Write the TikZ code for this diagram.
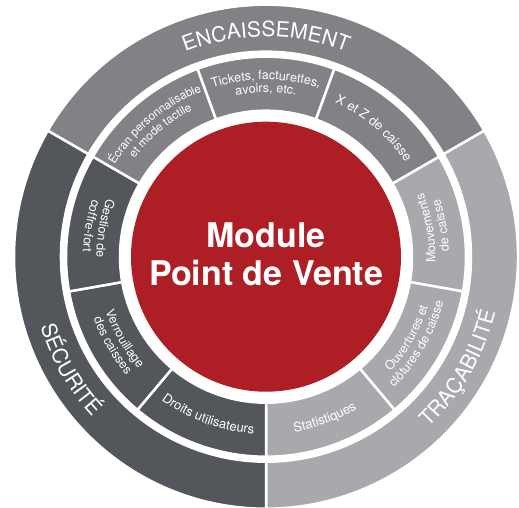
\documentclass[tikz,border=0pt]{standalone}
\usepackage{fontspec}
\setmainfont{TeX Gyre Heros}
\usepackage{tikz}
\usetikzlibrary{decorations.text}
\definecolor{modred}{HTML}{AD1F24}
\definecolor{encgray}{HTML}{808285}
\definecolor{tracgray}{HTML}{A7A9AC}
\definecolor{secgray}{HTML}{53565A}

\begin{document}
\begin{tikzpicture}[x=1pt, y=1pt, sector/.style={draw=white, line
      width=2.5pt}, bigcurve/.style={decorate, decoration={text along path,
      text align=center, text color=white,
      text={|\fontsize{21}{25}\selectfont|#1}}}, smallcurve/.style={decorate,
      decoration={text along path, text align=center, text color=white,
      text={|\fontsize{12.5}{14}\selectfont|#1}}}, tightcurve/.style={decorate,
      decoration={text along path, text align=center, text color=white,
      text={|\fontsize{11.7}{14}\selectfont|#1}}}, onecurve/.style={decorate,
      decoration={text along path, text align=center, text color=white,
      text={|\fontsize{13}{15}\selectfont|#1}}},
      modulelabel/.style={align=center, text=white,
      font=\fontsize{34}{38}\selectfont\bfseries} ]
    \useasboundingbox (-266,-251.3) rectangle (253,256.7);

    % Outer ring
    \draw[sector, fill=encgray] (30:205) arc (30:150:205) -- (150:252) arc
    (150:30:252) -- cycle; \draw[sector, fill=tracgray] (-90:205) arc
    (-90:30:205) -- (30:252) arc (30:-90:252) -- cycle; \draw[sector,
    fill=secgray] (150:205) arc (150:270:205) -- (270:252) arc (270:150:252)
    -- cycle;

    % Inner ring, Encaissement
    \draw[sector, fill=encgray] (110:146) arc (110:150:146) -- (150:200) arc
    (150:110:200) -- cycle; \draw[sector, fill=encgray] (70:146) arc
    (70:110:146) -- (110:200) arc (110:70:200) -- cycle; \draw[sector,
    fill=encgray] (30:146) arc (30:70:146) -- (70:200) arc (70:30:200) --
    cycle;

    % Inner ring, Tracabilite
    \draw[sector, fill=tracgray] (-10:146) arc (-10:30:146) -- (30:200) arc
    (30:-10:200) -- cycle; \draw[sector, fill=tracgray] (-50:146) arc
    (-50:-10:146) -- (-10:200) arc (-10:-50:200) -- cycle; \draw[sector,
    fill=tracgray] (-90:146) arc (-90:-50:146) -- (-50:200) arc (-50:-90:200)
    -- cycle;

    % Inner ring, Securite
    \draw[sector, fill=secgray] (230:146) arc (230:270:146) -- (270:200) arc
    (270:230:200) -- cycle; \draw[sector, fill=secgray] (190:146) arc
    (190:230:146) -- (230:200) arc (230:190:200) -- cycle; \draw[sector,
    fill=secgray] (150:146) arc (150:190:146) -- (190:200) arc (190:150:200)
    -- cycle;

    % Red centre
    \fill[modred] (0,0) circle (135);
    \node[modulelabel] (module) at (0,2) {Module\\Point de Vente};

    % Outer labels
    \path[bigcurve=ENCAISSEMENT] (150:220) arc (150:30:220);
    \path[bigcurve=TRAÇABILITÉ] (-80:236) arc (-80:20:236);
    \path[bigcurve=SÉCURITÉ] (160:236) arc (160:260:236);

    % Inner labels, tops outward
    \path[tightcurve=Écran personnalisable] (175:177) arc (175:85:177);
    \path[tightcurve=et mode tactile] (175:164) arc (175:85:164);
    \path[smallcurve={Tickets{,} facturettes{,}}] (135:177) arc (135:45:177);
    \path[smallcurve={avoirs{,} etc.}] (135:164) arc (135:45:164);
    \path[onecurve=X et Z de caisse] (95:168.5) arc (95:5:168.5);

    % Inner labels, tops inward
    \path[smallcurve=Mouvements] (-35:169.5) arc (-35:55:169.5);
    \path[smallcurve=de caisse] (-35:183) arc (-35:55:183);
    \path[smallcurve=Ouvertures et] (-75:169.5) arc (-75:15:169.5);
    \path[smallcurve=clôtures de caisse] (-75:183) arc (-75:15:183);
    \path[onecurve=Statistiques] (-115:177.5) arc (-115:-25:177.5);
    \path[onecurve=Droits utilisateurs] (205:177.5) arc (205:295:177.5);
    \path[smallcurve=Verrouillage] (165:169.5) arc (165:255:169.5);
    \path[smallcurve=des caisses] (165:183) arc (165:255:183);
    \path[smallcurve=Gestion de] (125:169.5) arc (125:215:169.5);
    \path[smallcurve=coffre-fort] (125:183) arc (125:215:183);

    \end{tikzpicture}
\end{document}
